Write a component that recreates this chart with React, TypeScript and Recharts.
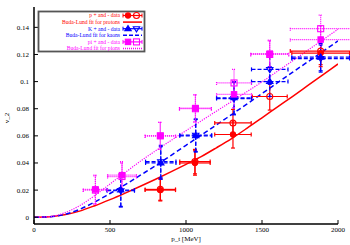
import { ComposedChart, Line, Scatter, XAxis, YAxis, ErrorBar } from 'recharts'

// Buda-Lund fit curves, v_2 vs p_t
const fitPt = [0, 100, 200, 300, 400, 500, 600, 700, 800, 900, 1000, 1100, 1200, 1300, 1400, 1500, 1600, 1700, 1800, 1900, 2000]
const fitProtons = [0, 0.0003, 0.0018, 0.0045, 0.0085, 0.013, 0.0178, 0.0228, 0.028, 0.0334, 0.039, 0.0447, 0.0512, 0.058, 0.0655, 0.0733, 0.0812, 0.089, 0.097, 0.105, 0.113]
const fitKaons = [0, 0.0003, 0.002, 0.0058, 0.0112, 0.0175, 0.024, 0.031, 0.038, 0.0455, 0.053, 0.0605, 0.068, 0.0757, 0.0834, 0.0912, 0.099, 0.1068, 0.1145, 0.1222, 0.13]
const fitPions = [0, 0.0004, 0.0032, 0.0085, 0.016, 0.0245, 0.033, 0.0413, 0.049, 0.0565, 0.0638, 0.071, 0.0782, 0.0853, 0.0925, 0.0998, 0.1075, 0.1152, 0.123, 0.1308, 0.1386]

// data points (filled = +, open = -)
const pPlusPt = [831, 1059, 1309, 1886]
const pPlusV2 = [0.02, 0.04, 0.061, 0.121]
const pPlusEx = [100, 100, 120, 190]
const pPlusEy = [0.008, 0.009, 0.01, 0.01]
const pMinusPt = [831, 1059, 1309, 1551, 1886]
const pMinusV2 = [0.0205, 0.041, 0.0695, 0.089, 0.1225]
const pMinusEx = [100, 100, 120, 115, 200]
const pMinusEy = [0.008, 0.009, 0.01, 0.01, 0.01]

const kPlusPt = [571, 834, 1064, 1316, 1551, 1886]
const kPlusV2 = [0.02, 0.04, 0.06, 0.088, 0.1, 0.118]
const kPlusEx = [90, 100, 105, 115, 120, 190]
const kPlusEy = [0.012, 0.012, 0.012, 0.012, 0.011, 0.01]
const kMinusPt = [571, 834, 1064, 1316, 1551, 1886]
const kMinusV2 = [0.0195, 0.041, 0.0605, 0.0875, 0.109, 0.117]
const kMinusEx = [90, 100, 105, 115, 120, 190]
const kMinusEy = [0.012, 0.012, 0.012, 0.012, 0.011, 0.01]

const piPlusPt = [404, 579, 831, 1062, 1316, 1551, 1886]
const piPlusV2 = [0.0205, 0.031, 0.06, 0.0805, 0.0906, 0.1206, 0.131]
const piPlusEx = [80, 95, 100, 105, 115, 125, 200]
const piPlusEy = [0.0105, 0.01, 0.01, 0.01, 0.01, 0.01, 0.01]
const piMinusPt = [404, 579, 831, 1062, 1316, 1551, 1886]
const piMinusV2 = [0.02, 0.03, 0.06, 0.08, 0.099, 0.12, 0.139]
const piMinusEx = [80, 95, 100, 105, 115, 125, 200]
const piMinusEy = [0.0105, 0.01, 0.01, 0.01, 0.01, 0.01, 0.01]

const xTicks = [0, 500, 1000, 1500, 2000]
const yTicks = [0, 0.02, 0.04, 0.06, 0.08, 0.1, 0.12, 0.14]

const RED = '#ff0000'
const BLUE = '#0000ff'
const MAG = '#ff00ff'
const FONT = '"Liberation Serif", "DejaVu Serif", serif'

const fitData = fitPt.map((x, i) => ({ x, p: fitProtons[i], k: fitKaons[i], pi: fitPions[i] }))

const pts = (xs: number[], ys: number[], ex: number[], ey: number[]) =>
  xs.map((x, i) => ({ x, y: ys[i], ex: ex[i], ey: ey[i] }))

type Kind = 'circle' | 'triUp' | 'triDown' | 'square'

function Marker({ kind, cx, cy, color, filled }: { kind: Kind; cx: number; cy: number; color: string; filled: boolean }) {
  const fill = filled ? color : 'none'
  const sw = 1.1
  if (kind === 'circle') return <circle cx={cx} cy={cy} r={filled ? 2.6 : 3} fill={fill} stroke={color} strokeWidth={sw} />
  if (kind === 'square') {
    const s = filled ? 2.7 : 3
    return <rect x={cx - s} y={cy - s} width={s * 2} height={s * 2} fill={fill} stroke={color} strokeWidth={sw} />
  }
  const d = kind === 'triUp' ? -1 : 1
  const s = 3.2
  return (
    <polygon
      points={`${cx - s},${cy - d * s * 0.6} ${cx + s},${cy - d * s * 0.6} ${cx},${cy + d * s}`}
      fill={fill}
      stroke={color}
      strokeWidth={sw}
    />
  )
}

const shape = (kind: Kind, color: string, filled: boolean) => (props: any) =>
  <Marker kind={kind} cx={props.cx} cy={props.cy} color={color} filled={filled} />

const noLabel = () => ''

const series = [
  { name: 'p+', data: pts(pPlusPt, pPlusV2, pPlusEx, pPlusEy), kind: 'circle' as Kind, color: RED, filled: true, dash: undefined },
  { name: 'p-', data: pts(pMinusPt, pMinusV2, pMinusEx, pMinusEy), kind: 'circle' as Kind, color: RED, filled: false, dash: undefined },
  { name: 'K+', data: pts(kPlusPt, kPlusV2, kPlusEx, kPlusEy), kind: 'triUp' as Kind, color: BLUE, filled: true, dash: '4 2' },
  { name: 'K-', data: pts(kMinusPt, kMinusV2, kMinusEx, kMinusEy), kind: 'triDown' as Kind, color: BLUE, filled: false, dash: '4 2' },
  { name: 'pi+', data: pts(piPlusPt, piPlusV2, piPlusEx, piPlusEy), kind: 'square' as Kind, color: MAG, filled: true, dash: '1 1' },
  { name: 'pi-', data: pts(piMinusPt, piMinusV2, piMinusEx, piMinusEy), kind: 'square' as Kind, color: MAG, filled: false, dash: '1 1' },
]

const legendRows = [
  { text: 'p + and - data', color: RED, kind: 'circle' as Kind, dash: undefined, data: true },
  { text: 'Buda-Lund fit for protons', color: RED, kind: 'circle' as Kind, dash: undefined, data: false },
  { text: 'K + and - data', color: BLUE, kind: 'triUp' as Kind, dash: '4 2', data: true },
  { text: 'Buda-Lund fit for kaons', color: BLUE, kind: 'triUp' as Kind, dash: '4 2', data: false },
  { text: 'pi + and - data', color: MAG, kind: 'square' as Kind, dash: '1 1', data: true },
  { text: 'Buda-Lund fit for pions', color: MAG, kind: 'square' as Kind, dash: '1 1', data: false },
]

function LegendBox() {
  return (
    <svg width={110} height={44} style={{ position: 'absolute', left: 37, top: 10 }}>
      <rect x={1.5} y={1.5} width={106} height={40} fill="white" stroke="#555" strokeWidth={1.8} />
      {legendRows.map((r, i) => {
        const y = 5.5 + i * 6.6
        return (
          <g key={i}>
            <text x={83} y={y} dy="0.35em" textAnchor="end" fontSize={5.6} fontFamily={FONT} fill={r.color}>
              {r.text}
            </text>
            <line
              x1={86}
              x2={105}
              y1={y}
              y2={y}
              stroke={r.color}
              strokeWidth={r.data ? 1.2 : 1.5}
              strokeDasharray={r.data ? undefined : r.dash ?? undefined}
            />
            {r.data && (
              <>
                <line x1={86} x2={86} y1={y - 2} y2={y + 2} stroke={r.color} strokeWidth={1} />
                <line x1={105} x2={105} y1={y - 2} y2={y + 2} stroke={r.color} strokeWidth={1} />
                <Marker kind={r.kind} cx={91} cy={y} color={r.color} filled />
                <Marker kind={r.kind === 'triUp' ? 'triDown' : r.kind} cx={99.5} cy={y} color={r.color} filled={false} />
              </>
            )}
          </g>
        )
      })}
    </svg>
  )
}

const YLabel = () => (
  <text x={7} y={118} textAnchor="middle" dy="0.35em" fontSize={7} fontFamily={FONT} transform="rotate(-90 7 118)">
    v_2
  </text>
)

const XLabel = () => (
  <text x={186} y={239} textAnchor="middle" dy="0.35em" fontSize={7} fontFamily={FONT}>
    p_t [MeV]
  </text>
)

export default function App() {
  const tickStyle = { fontSize: 7, fontFamily: FONT, fill: '#000' }
  return (
    <div style={{ position: 'absolute', left: 0, top: 0, width: 350, height: 245, background: 'white' }}>
      <ComposedChart width={350} height={245} data={fitData} margin={{ top: 7, right: 12, bottom: 0, left: 8 }}>
        <XAxis
          dataKey="x"
          type="number"
          domain={[0, 2000]}
          ticks={xTicks}
          allowDataOverflow
          height={21}
          tickSize={-4}
          tickMargin={7}
          tick={tickStyle}
          axisLine={{ stroke: '#000', strokeWidth: 1.5 }}
          tickLine={{ stroke: '#000' }}
          label={<XLabel />}
        />
        <XAxis
          xAxisId="top"
          orientation="top"
          dataKey="x"
          type="number"
          domain={[0, 2000]}
          ticks={xTicks}
          allowDataOverflow
          height={0}
          tickSize={-4}
          tickFormatter={noLabel}
          axisLine={{ stroke: '#000', strokeWidth: 1.5 }}
          tickLine={{ stroke: '#000' }}
        />
        <YAxis
          type="number"
          domain={[-0.005, 0.155]}
          ticks={yTicks}
          allowDataOverflow
          width={26}
          tickSize={-4}
          tickMargin={9}
          tick={tickStyle}
          axisLine={{ stroke: '#000', strokeWidth: 1.5 }}
          tickLine={{ stroke: '#000' }}
          label={<YLabel />}
        />
        <YAxis
          yAxisId="right"
          orientation="right"
          type="number"
          domain={[-0.005, 0.155]}
          ticks={yTicks}
          allowDataOverflow
          width={0}
          tickSize={-4}
          tickFormatter={noLabel}
          axisLine={{ stroke: '#000', strokeWidth: 1.5 }}
          tickLine={{ stroke: '#000' }}
        />
        <Line dataKey="p" type="monotone" stroke={RED} strokeWidth={1.5} dot={false} isAnimationActive={false} />
        <Line dataKey="k" type="monotone" stroke={BLUE} strokeWidth={1.5} strokeDasharray="5 3" dot={false} isAnimationActive={false} />
        <Line dataKey="pi" type="monotone" stroke={MAG} strokeWidth={1.2} strokeDasharray="1.2 1.2" dot={false} isAnimationActive={false} />
        {series.map(s => (
          <Scatter key={s.name} data={s.data} dataKey="y" shape={shape(s.kind, s.color, s.filled)} isAnimationActive={false}>
            <ErrorBar dataKey="ex" direction="x" width={2} stroke={s.color} strokeWidth={1.2} strokeDasharray={s.dash} isAnimationActive={false} />
            <ErrorBar dataKey="ey" direction="y" width={2} stroke={s.color} strokeWidth={1.2} strokeDasharray={s.dash} isAnimationActive={false} />
          </Scatter>
        ))}
      </ComposedChart>
      <LegendBox />
    </div>
  )
}
